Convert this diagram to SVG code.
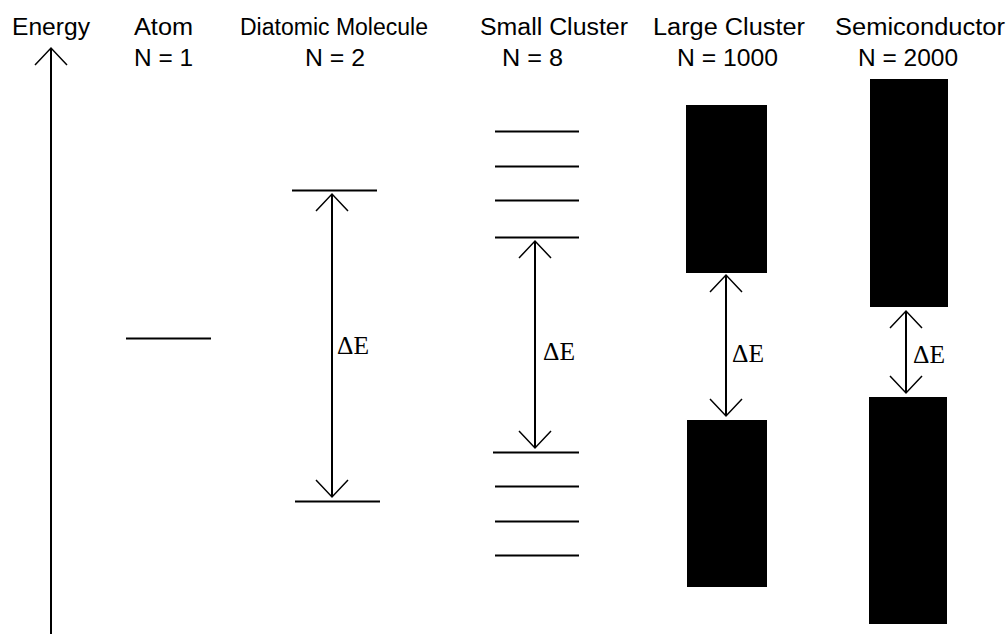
<svg xmlns="http://www.w3.org/2000/svg" width="1008" height="634" viewBox="0 0 1008 634">
  <style>
    .label { font-family: "Liberation Sans", Arial, sans-serif; font-size: 23px; fill: #000; }
    .delta { font-family: "Liberation Serif", "Times New Roman", serif; font-size: 25px; fill: #000; }
    .level { stroke: #000; stroke-width: 2; fill: none; }
    .band { fill: #000; }
    .arrow { stroke: #000; stroke-width: 2; fill: none; marker-start: url(#tip); marker-end: url(#tip); }
    .axis { stroke: #000; stroke-width: 2; fill: none; marker-end: url(#tip); }
  </style>
  <defs>
    <!-- open V arrowhead, tip at the line end -->
    <marker id="tip" markerUnits="userSpaceOnUse" viewBox="-20 -20 40 40" markerWidth="40" markerHeight="40" refX="0" refY="0" orient="auto-start-reverse" overflow="visible">
      <path d="M-17,-16 L0,0 L-17,16" stroke="#000" stroke-width="1.5" fill="none"/>
    </marker>
  </defs>
  <rect width="1008" height="634" fill="#fff"/>

  <!-- energy axis -->
  <g id="energy-axis">
    <text class="label" x="12" y="35" textLength="78" lengthAdjust="spacingAndGlyphs">Energy</text>
  </g>

  <!-- single atom -->
  <g id="atom">
    <text class="label" x="134" y="35" textLength="59" lengthAdjust="spacingAndGlyphs">Atom</text>
    <text class="label" x="134" y="66" textLength="59" lengthAdjust="spacingAndGlyphs">N = 1</text>
    <line class="level" x1="126" y1="338.5" x2="211" y2="338.5"/>
  </g>

  <!-- diatomic molecule -->
  <g id="diatomic">
    <text class="label" x="240" y="35" textLength="188" lengthAdjust="spacingAndGlyphs">Diatomic Molecule</text>
    <text class="label" x="305" y="66" textLength="60" lengthAdjust="spacingAndGlyphs">N = 2</text>
    <line class="level" x1="292" y1="190.5" x2="377" y2="190.5"/>
    <line class="level" x1="295" y1="501.5" x2="380" y2="501.5"/>
    <text class="delta" x="337" y="354" textLength="32" lengthAdjust="spacingAndGlyphs">ΔE</text>
  </g>

  <!-- small cluster -->
  <g id="small-cluster">
    <text class="label" x="480" y="35" textLength="148" lengthAdjust="spacingAndGlyphs">Small Cluster</text>
    <text class="label" x="502" y="66" textLength="61" lengthAdjust="spacingAndGlyphs">N = 8</text>
    <line class="level" x1="495" y1="131.5" x2="579" y2="131.5"/>
    <line class="level" x1="495" y1="166.5" x2="579" y2="166.5"/>
    <line class="level" x1="495" y1="200.5" x2="579" y2="200.5"/>
    <line class="level" x1="495" y1="237.5" x2="579" y2="237.5"/>
    <line class="level" x1="493" y1="452.5" x2="579" y2="452.5"/>
    <line class="level" x1="495" y1="486.5" x2="579" y2="486.5"/>
    <line class="level" x1="495" y1="521.5" x2="579" y2="521.5"/>
    <line class="level" x1="495" y1="555.5" x2="579" y2="555.5"/>
    <text class="delta" x="543" y="360" textLength="32" lengthAdjust="spacingAndGlyphs">ΔE</text>
  </g>

  <!-- large cluster -->
  <g id="large-cluster">
    <text class="label" x="653" y="35" textLength="152" lengthAdjust="spacingAndGlyphs">Large Cluster</text>
    <text class="label" x="677" y="66" textLength="101" lengthAdjust="spacingAndGlyphs">N = 1000</text>
    <rect class="band" x="686" y="105" width="81" height="168"/>
    <rect class="band" x="687" y="420" width="80" height="167"/>
    <text class="delta" x="732" y="362" textLength="32" lengthAdjust="spacingAndGlyphs">ΔE</text>
  </g>

  <!-- semiconductor -->
  <g id="semiconductor">
    <text class="label" x="835" y="35" textLength="170" lengthAdjust="spacingAndGlyphs">Semiconductor</text>
    <text class="label" x="858" y="66" textLength="100" lengthAdjust="spacingAndGlyphs">N = 2000</text>
    <rect class="band" x="870" y="79" width="78" height="228"/>
    <rect class="band" x="869" y="397" width="78" height="227"/>
    <text class="delta" x="913" y="363" textLength="32" lengthAdjust="spacingAndGlyphs">ΔE</text>
  </g>

  <!-- connectors: energy axis and band-gap arrows -->
  <g id="connectors">
    <line class="axis" x1="51" y1="634" x2="51" y2="48"/>
    <line class="arrow" x1="332" y1="194" x2="332" y2="497"/>
    <line class="arrow" x1="535" y1="241" x2="535" y2="448"/>
    <line class="arrow" x1="726" y1="275" x2="726" y2="416"/>
    <line class="arrow" x1="906" y1="311" x2="906" y2="393"/>
  </g>
</svg>
